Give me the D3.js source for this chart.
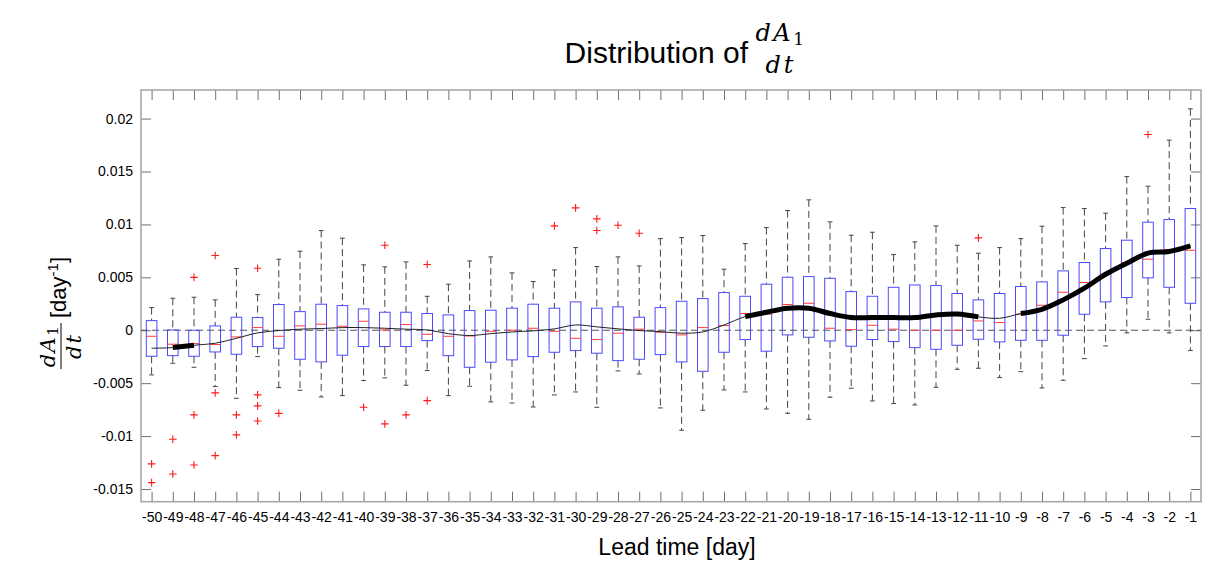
<!DOCTYPE html>
<html>
<head>
<meta charset="utf-8">
<script src="https://cdn.jsdelivr.net/npm/d3@7"></script>
<style>
  html, body { margin: 0; padding: 0; background: #ffffff; }
  svg { display: block; }
  text { font-family: "Liberation Sans", Arial, Helvetica, sans-serif; fill: #000; }
  .math { font-family: "DejaVu Serif", "Liberation Serif", serif; font-style: italic; }
  .mathr { font-family: "DejaVu Serif", "Liberation Serif", serif; font-style: normal; }
</style>
</head>
<body>
<svg id="chart" width="1219" height="572"></svg>
<script>
// ---------------- DATA ----------------
const leadTimes = [-50,-49,-48,-47,-46,-45,-44,-43,-42,-41,-40,-39,-38,-37,-36,-35,-34,-33,-32,-31,
                   -30,-29,-28,-27,-26,-25,-24,-23,-22,-21,-20,-19,-18,-17,-16,-15,-14,-13,-12,-11,
                   -10,-9,-8,-7,-6,-5,-4,-3,-2,-1];

const whiskerLow = [-0.00422,-0.00312,-0.0035,-0.00532,-0.00643,-0.00249,-0.00542,-0.00567,-0.0063,-0.00618,
                    -0.00476,-0.0045,-0.0052,-0.00381,-0.00618,-0.00529,-0.00677,-0.00687,-0.00725,-0.00611,
                    -0.00583,-0.00728,-0.00384,-0.00413,-0.00734,-0.00945,-0.00756,-0.00564,-0.00583,-0.00744,
                    -0.00785,-0.00841,-0.00633,-0.00548,-0.00668,-0.00693,-0.00706,-0.00539,-0.00369,-0.00359,
                    -0.00447,-0.00391,-0.00545,-0.00473,-0.00268,-0.00148,-0.00025,0.00104,-0.00025,-0.00192];

const q1 = [-0.00246,-0.0024,-0.00246,-0.00205,-0.00227,-0.00154,-0.0017,-0.00274,-0.00299,-0.00236,
            -0.00154,-0.00154,-0.00154,-0.00098,-0.0024,-0.0035,-0.00302,-0.0028,-0.00249,-0.00208,
            -0.00192,-0.00217,-0.00287,-0.00274,-0.0023,-0.00299,-0.00388,-0.00208,-0.00088,-0.00198,
            -0.00044,-0.00066,-0.00101,-0.00151,-0.00088,-0.00107,-0.00164,-0.0018,-0.00142,-0.00085,
            -0.0011,-0.00095,-0.00095,-0.00047,0.00151,0.00268,0.00309,0.00495,0.00406,0.00255];

const medians = [-0.00057,-0.00132,-0.00126,-0.00135,-0.00063,0.00025,-0.00057,0.00041,0.00057,0.00038,
                 0.00085,0.00003,0.00054,-0.00038,-0.00057,-0.00054,-0.0001,0.0,0.00019,-0.0001,
                 -0.00076,-0.00088,-0.00028,0.0001,-0.00019,-0.00044,0.00025,0.00044,0.00158,0.00151,
                 0.00243,0.00255,0.00019,0.00006,0.00047,0.0001,0.0,0.0,0.0,0.00088,
                 0.00072,0.00151,0.00236,0.00359,0.00451,0.00526,0.0064,0.00671,0.00762,0.00756];

const q3 = [0.00091,0.00003,0.0,0.00041,0.00123,0.0012,0.00243,0.00176,0.00246,0.00233,
            0.00202,0.0017,0.0017,0.00158,0.00145,0.00186,0.00189,0.00208,0.00246,0.00208,
            0.00268,0.00208,0.00221,0.00123,0.00214,0.00274,0.00299,0.00356,0.00321,0.00435,
            0.00501,0.00507,0.00491,0.00365,0.00321,0.00406,0.00428,0.00422,0.00347,0.00287,
            0.00347,0.00413,0.00457,0.00561,0.0064,0.00772,0.00851,0.01021,0.01046,0.0115];

const whiskerHigh = [0.00214,0.00302,0.00312,0.00287,0.00583,0.00337,0.00671,0.00747,0.00942,0.0087,
                     0.00618,0.00599,0.00646,0.00321,0.00435,0.00655,0.00693,0.00542,0.0046,0.0057,
                     0.00781,0.00602,0.00693,0.00608,0.00866,0.00876,0.00895,0.00577,0.00819,0.0097,
                     0.01131,0.01232,0.01024,0.00898,0.00926,0.00715,0.00835,0.00986,0.00803,0.00728,
                     0.00781,0.00866,0.00983,0.01159,0.0115,0.01106,0.01452,0.01361,0.01796,0.02092];

// outliers: [lead time, value]
const outliers = [
  [-50,-0.01263],[-50,-0.0144],
  [-49,-0.0103],[-49,-0.01358],
  [-48,0.005],[-48,-0.008],[-48,-0.01273],
  [-47,0.00706],[-47,-0.00592],[-47,-0.01185],
  [-46,-0.008],[-46,-0.00989],
  [-45,0.00586],[-45,-0.00611],[-45,-0.00715],[-45,-0.00857],
  [-44,-0.00785],
  [-40,-0.00728],
  [-39,0.00803],[-39,-0.00885],
  [-38,-0.008],
  [-37,0.00621],[-37,-0.00665],
  [-31,0.00986],
  [-30,0.01156],
  [-29,0.01052],[-29,0.00942],
  [-28,0.00992],
  [-27,0.00917],
  [-11,0.00873],
  [-3,0.01849]
];

// mean curve and significance flags
const meanValues = [-0.0017,-0.00164,-0.00142,-0.00123,-0.00076,-0.00025,-0.00003,0.0001,0.00016,0.00025,
                    0.00025,0.00019,0.0001,0.00003,-0.00032,-0.0005,-0.00032,-0.00016,-0.00006,0.00013,
                    0.0005,0.00032,0.00013,-0.00003,-0.00013,-0.00028,-0.00016,0.0005,0.00129,0.0017,
                    0.00208,0.00208,0.00158,0.0012,0.0012,0.0012,0.0012,0.00145,0.00154,0.00126,
                    0.00113,0.00158,0.00198,0.00287,0.00397,0.00529,0.00633,0.00728,0.00744,0.00797];
const significant = [0,1,1,0,0,0,0,0,0,0,
                     0,0,0,0,0,0,0,0,0,0,
                     0,0,0,0,0,0,0,0,1,1,
                     1,1,1,1,1,1,1,1,1,1,
                     0,1,1,1,1,1,1,1,1,1];

const yTickValues = [-0.015,-0.01,-0.005,0,0.005,0.01,0.015,0.02];
const yTickLabels = ["-0.015","-0.01","-0.005","0","0.005","0.01","0.015","0.02"];
const yDomain = [-0.0162, 0.0227];

// ---------------- CHART ----------------
const svg = d3.select("#chart");
const L = 141, R = 1201, T = 90, B = 501.7;

const x = d3.scalePoint().domain(leadTimes).range([L, R]).padding(0.5);
const y = d3.scaleLinear().domain(yDomain).range([B, T]);
const step = x.step();
const boxW = step * 0.5;
const capW = boxW * 0.45;

const rows = leadTimes.map((t, i) => ({
  t, lo: whiskerLow[i], q1: q1[i], med: medians[i], q3: q3[i], hi: whiskerHigh[i],
  mean: meanValues[i], sig: significant[i]
}));

// axes (ticks inside on all four sides)
const gBottom = svg.append("g").attr("transform", `translate(0,${B})`)
  .call(d3.axisBottom(x).tickSizeInner(-10).tickSizeOuter(0).tickPadding(10));
const gTop = svg.append("g").attr("transform", `translate(0,${T})`)
  .call(d3.axisTop(x).tickSizeInner(-10).tickSizeOuter(0).tickFormat(""));
const gLeft = svg.append("g").attr("transform", `translate(${L},0)`)
  .call(d3.axisLeft(y).tickValues(yTickValues).tickSizeInner(-10).tickSizeOuter(0).tickPadding(8)
        .tickFormat((d, i) => yTickLabels[i]));
const gRight = svg.append("g").attr("transform", `translate(${R},0)`)
  .call(d3.axisRight(y).tickValues(yTickValues).tickSizeInner(-10).tickSizeOuter(0).tickFormat(""));

[gBottom, gTop, gLeft, gRight].forEach(g => {
  g.select(".domain").remove();
  g.selectAll(".tick line").attr("stroke", "#6e6e6e").attr("stroke-width", 1);
  g.selectAll(".tick text").attr("font-size", 14)
    .attr("font-family", '"Liberation Sans", Arial, Helvetica, sans-serif').attr("fill", "#000");
});

// frame
svg.append("rect").attr("x", L).attr("y", T).attr("width", R - L).attr("height", B - T)
  .attr("fill", "none").attr("stroke", "#a8a8a8").attr("stroke-width", 1.6);

// zero reference line
svg.append("line").attr("x1", L).attr("x2", R).attr("y1", y(0)).attr("y2", y(0))
  .attr("stroke", "#555").attr("stroke-width", 1).attr("stroke-dasharray", "7,4");

// boxplots
const gBox = svg.append("g");
const bx = gBox.selectAll("g.box").data(rows).join("g").attr("class", "box");

bx.append("line").attr("x1", d => x(d.t)).attr("x2", d => x(d.t))
  .attr("y1", d => y(d.hi)).attr("y2", d => y(d.q3))
  .attr("stroke", "#444").attr("stroke-width", 1).attr("stroke-dasharray", "7,4");
bx.append("line").attr("x1", d => x(d.t)).attr("x2", d => x(d.t))
  .attr("y1", d => y(d.q1)).attr("y2", d => y(d.lo))
  .attr("stroke", "#444").attr("stroke-width", 1).attr("stroke-dasharray", "7,4");
bx.append("line").attr("x1", d => x(d.t) - capW / 2).attr("x2", d => x(d.t) + capW / 2)
  .attr("y1", d => y(d.hi)).attr("y2", d => y(d.hi)).attr("stroke", "#444").attr("stroke-width", 1);
bx.append("line").attr("x1", d => x(d.t) - capW / 2).attr("x2", d => x(d.t) + capW / 2)
  .attr("y1", d => y(d.lo)).attr("y2", d => y(d.lo)).attr("stroke", "#444").attr("stroke-width", 1);
bx.append("rect").attr("x", d => x(d.t) - boxW / 2).attr("width", boxW)
  .attr("y", d => y(d.q3)).attr("height", d => Math.max(0.5, y(d.q1) - y(d.q3)))
  .attr("fill", "none").attr("stroke", "#4a4aff").attr("stroke-width", 1);
bx.append("line").attr("x1", d => x(d.t) - boxW / 2).attr("x2", d => x(d.t) + boxW / 2)
  .attr("y1", d => y(d.med)).attr("y2", d => y(d.med)).attr("stroke", "#ff3b3b").attr("stroke-width", 1);

// outliers
const pSize = 3.8;
const gOut = svg.append("g");
outliers.forEach(([t, v]) => {
  const cx = x(t), cy = y(v);
  gOut.append("path").attr("d", `M${cx - pSize},${cy}H${cx + pSize}M${cx},${cy - pSize}V${cy + pSize}`)
    .attr("stroke", "#ff1a1a").attr("stroke-width", 1.1).attr("fill", "none");
});

// mean curve
const line = d3.line().x(d => x(d.t)).y(d => y(d.mean)).curve(d3.curveCatmullRom.alpha(0.5));
svg.append("path").attr("d", line(rows)).attr("fill", "none").attr("stroke", "#222").attr("stroke-width", 1);

// thick segments where significant
let runs = [], cur = [];
rows.forEach(d => {
  if (d.sig) cur.push(d); else { if (cur.length > 1) runs.push(cur); cur = []; }
});
if (cur.length > 1) runs.push(cur);
runs.forEach(r => {
  svg.append("path").attr("d", line(r)).attr("fill", "none").attr("stroke", "#000")
    .attr("stroke-width", 5).attr("stroke-linejoin", "round");
});

// title
svg.append("text").attr("x", 748).attr("y", 63).attr("text-anchor", "end")
  .attr("font-size", 30).text("Distribution of");
const tNum = svg.append("text").attr("x", 781).attr("y", 41).attr("text-anchor", "middle")
  .attr("letter-spacing", 2.5);
tNum.append("tspan").attr("class", "math").attr("font-size", 24).text("dA");
tNum.append("tspan").attr("class", "mathr").attr("dy", 4).attr("font-size", 17).text("1");
const tDen = svg.append("text").attr("x", 781).attr("y", 73).attr("text-anchor", "middle")
  .attr("letter-spacing", 3);
tDen.append("tspan").attr("class", "math").attr("font-size", 24).text("dt");

// x label
svg.append("text").attr("x", 677).attr("y", 555).attr("text-anchor", "middle")
  .attr("font-size", 23).text("Lead time [day]");

// y label (rotated)
const gy = svg.append("g").attr("transform", "translate(66,305) rotate(-90)");
const yl = gy.append("text").attr("x", -13).attr("y", 0).attr("font-size", 22);
yl.append("tspan").text("[day");
yl.append("tspan").attr("font-size", 15).attr("dy", -8).text("-1");
yl.append("tspan").attr("dy", 8).text("]");
const yNum = gy.append("text").attr("x", -41).attr("y", -11).attr("text-anchor", "middle")
  .attr("letter-spacing", 1.5);
yNum.append("tspan").attr("class", "math").attr("font-size", 21).text("dA");
yNum.append("tspan").attr("class", "mathr").attr("dy", 3).attr("font-size", 15).text("1");
gy.append("line").attr("x1", -64).attr("x2", -18).attr("y1", -5).attr("y2", -5)
  .attr("stroke", "#000").attr("stroke-width", 1);
const yDen = gy.append("text").attr("x", -41).attr("y", 15).attr("text-anchor", "middle")
  .attr("letter-spacing", 2);
yDen.append("tspan").attr("class", "math").attr("font-size", 21).text("dt");
</script>
</body>
</html>
